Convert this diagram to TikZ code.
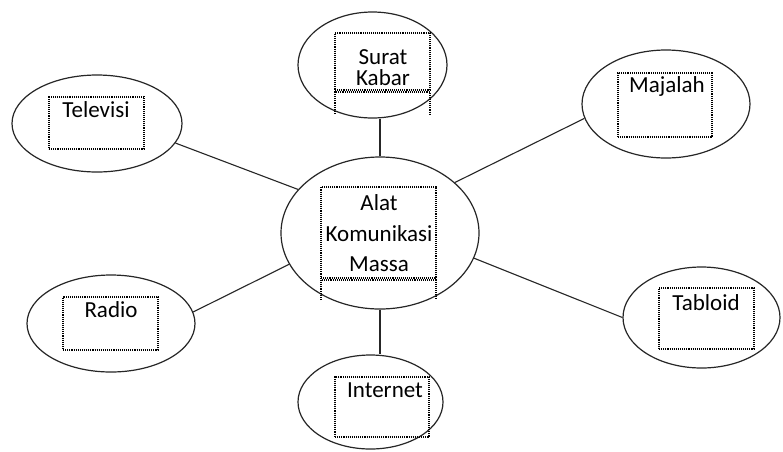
\documentclass[tikz,border=0pt]{standalone}
\usepackage{fontspec}
\setmainfont{Carlito}
\usetikzlibrary{shapes.geometric}
\begin{document}
\begin{tikzpicture}[x=1pt,y=-1pt,
  ell/.style={draw=black!85, line width=1.2pt, ellipse, inner sep=0pt},
  dbox/.style={draw=black, line width=1.1pt, dash pattern=on 1.1pt off 1pt, inner sep=0pt},
  lbl/.style={anchor=base, inner sep=0pt, text=black, font=\fontsize{23}{30}\selectfont},
  link/.style={draw=black!85, line width=1.1pt}]
\useasboundingbox (0,0) rectangle (783,451);
\fill[white] (0,0) rectangle (783,451);
% ellipses
\node[ell, minimum width=198pt, minimum height=152pt] (c)  at (380,233) {};
\node[ell, minimum width=149pt, minimum height=106pt] (sk) at (372.5,65) {};
\node[ell, minimum width=170pt, minimum height=97pt]  (tv) at (97,123.5) {};
\node[ell, minimum width=168pt, minimum height=108pt] (mj) at (666,104) {};
\node[ell, minimum width=168pt, minimum height=97pt]  (rd) at (111,323.5) {};
\node[ell, minimum width=157pt, minimum height=101pt] (tb) at (701.5,317.5) {};
\node[ell, minimum width=145pt, minimum height=94pt]  (in) at (370.5,402) {};
% connectors
\draw[link] (tv.-14.6) -- (c.152.3);
\draw[link] (mj.190.9) -- (c.34.4);
\draw[link] (rd.8.3) -- (c.199.2);
\draw[link] (tb.180) -- (c.-15);
\draw[link] (c.north) -- (c.north |- sk.south);
\draw[link] (c.south) -- (c.south |- in.north);
% dotted boxes
\node[dbox, minimum width=95pt, minimum height=52pt]  (tvb) at (96.5,123) {};
\node[dbox, minimum width=94pt, minimum height=64pt]  (mjb) at (665,105) {};
\node[dbox, minimum width=95pt, minimum height=53pt]  (rdb) at (110.5,323.5) {};
\node[dbox, minimum width=95pt, minimum height=61pt]  (tbb) at (706.5,318.5) {};
\node[dbox, minimum width=94pt, minimum height=60pt]  (inb) at (382,407) {};
\node[dbox, minimum width=95pt, minimum height=57pt]  (skb) at (382.5,61.5) {};
\node[dbox, minimum width=115pt, minimum height=91pt] (cb)  at (378.5,232.5) {};
\draw[dbox] (335,114) -- (335,92) -- (430,92) -- (430,114);
\draw[dbox] (321,300) -- (321,280) -- (436,280) -- (436,300);
% labels
\node[lbl] (ttv) at (96,117) {Televisi};
\node[lbl] (tmj) at (667,92) {Majalah};
\node[lbl] (trd) at (111,317) {Radio};
\node[lbl] (ttb) at (706,310) {Tabloid};
\node[lbl] (tin) at (385,397) {Internet};
\node[lbl] (tsk1) at (383,64) {Surat};
\node[lbl] (tsk2) at (383,85) {Kabar};
\node[lbl] (tc1) at (379,210) {Alat};
\node[lbl] (tc2) at (379,241) {Komunikasi};
\node[lbl] (tc3) at (379,271) {Massa};
\end{tikzpicture}
\end{document}
